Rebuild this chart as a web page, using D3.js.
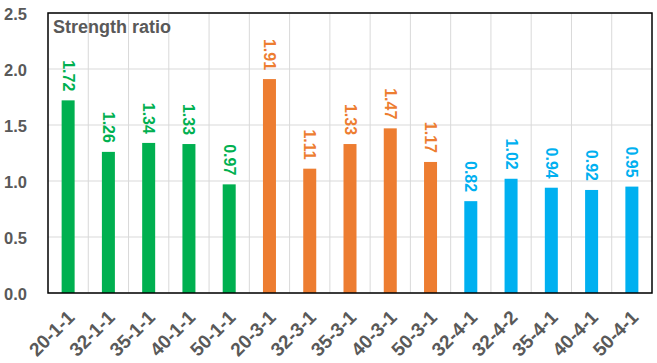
<!DOCTYPE html>
<html><head><meta charset="utf-8">
<script src="https://cdn.jsdelivr.net/npm/d3@7"></script>
<style>body{margin:0;background:#fff}svg{display:block}text{font-family:Arial,"Liberation Sans",sans-serif}</style>
</head><body><svg id="c" width="657" height="363"></svg>
<script>
const categories = ["20-1-1","32-1-1","35-1-1","40-1-1","50-1-1","20-3-1","32-3-1","35-3-1","40-3-1","50-3-1","32-4-1","32-4-2","35-4-1","40-4-1","50-4-1"];
const values = [1.72,1.26,1.34,1.33,0.97,1.91,1.11,1.33,1.47,1.17,0.82,1.02,0.94,0.92,0.95];
const groups = [0,0,0,0,0,1,1,1,1,1,2,2,2,2,2];
const groupColors = ["#00B050","#ED7D31","#00B0F0"];
const yTicks = [0,0.5,1.0,1.5,2.0,2.5];
const title = "Strength ratio";

const svg = d3.select("#c");
const m = {l:48, r:5, t:13, b:70};
const W = 657, H = 363;
const x = d3.scaleBand().domain(categories).range([m.l, W-m.r]);
const y = d3.scaleLinear().domain([0,2.5]).range([H-m.b, m.t]);
const grid = "#D9D9D9", txt = "#595959";
const font = "Arial, 'Liberation Sans', sans-serif";

// horizontal gridlines
svg.append("g").selectAll("line").data(yTicks).join("line")
  .attr("x1", m.l).attr("x2", W-m.r).attr("y1", d=>y(d)).attr("y2", d=>y(d))
  .attr("stroke", grid).attr("stroke-width", 1);
// vertical gridlines at band boundaries
svg.append("g").selectAll("line").data(categories.slice(1)).join("line")
  .attr("x1", d=>x(d)).attr("x2", d=>x(d)).attr("y1", m.t).attr("y2", H-m.b)
  .attr("stroke", grid).attr("stroke-width", 1);

// bars
const bw = 13;
svg.append("g").selectAll("rect").data(values).join("rect")
  .attr("x", (d,i)=>x(categories[i]) + x.bandwidth()/2 - bw/2)
  .attr("width", bw)
  .attr("y", d=>y(d)).attr("height", d=>y(0)-y(d))
  .attr("fill", (d,i)=>groupColors[groups[i]]);

// value labels
svg.append("g").selectAll("text").data(values).join("text")
  .attr("transform", (d,i)=>`translate(${x(categories[i]) + x.bandwidth()/2},${y(d)-9}) rotate(90)`)
  .attr("text-anchor","end").attr("dominant-baseline","central")
  .attr("font-size", 16).attr("font-weight","bold")
  .attr("fill", (d,i)=>groupColors[groups[i]])
  .text(d=>d.toFixed(2));

// border
svg.append("rect").attr("x", m.l).attr("y", m.t).attr("width", W-m.r-m.l).attr("height", H-m.b-m.t)
  .attr("fill","none").attr("stroke","#000").attr("stroke-width",1.5);

// y axis labels
const ya = d3.axisLeft(y).tickValues(yTicks).tickFormat(d3.format(".1f")).tickSize(0).tickPadding(21);
const gy = svg.append("g").attr("transform",`translate(${m.l},0)`).call(ya);
gy.select(".domain").remove();
gy.selectAll("text").attr("font-size",16.5).attr("font-weight","bold").attr("fill",txt).attr("font-family",font).attr("dy","0.4em");

// x axis labels
const xa = d3.axisBottom(x).tickSize(0).tickPadding(0);
const gx = svg.append("g").attr("transform",`translate(0,${H-m.b})`).call(xa);
gx.select(".domain").remove();
gx.selectAll("text")
  .attr("font-size",19).attr("font-weight","bold").attr("fill",txt).attr("font-family",font)
  .attr("text-anchor","end").attr("dy",null).attr("y",0)
  .attr("dominant-baseline","central")
  .attr("transform","translate(3,21) rotate(-45)");

// title
svg.append("text").attr("x", 53).attr("y", 33).attr("font-size",18).attr("font-weight","bold").attr("fill",txt).text(title);
</script></body></html>
